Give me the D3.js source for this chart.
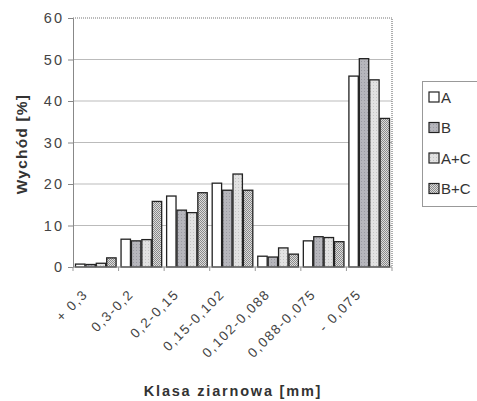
<!DOCTYPE html>
<html><head><meta charset="utf-8">
<script src="https://cdn.jsdelivr.net/npm/d3@7"></script>
<style>body{margin:0;background:#fff}svg{display:block}</style>
</head><body>
<script>
const categories = ["+ 0,3","0,3-0,2","0,2-0,15","0,15-0,102","0,102-0,088","0,088-0,075","- 0,075"];
const seriesNames = ["A","B","A+C","B+C"];
const valuesA   = [0.7, 6.7, 17.1, 20.2, 2.6, 6.3, 46.0];
const valuesB   = [0.6, 6.3, 13.7, 18.5, 2.4, 7.3, 50.2];
const valuesAC  = [0.9, 6.6, 13.1, 22.4, 4.6, 7.1, 45.1];
const valuesBC  = [2.2, 15.8, 17.9, 18.5, 3.1, 6.1, 35.8];
const yTicks = [0,10,20,30,40,50,60];
const series = [valuesA, valuesB, valuesAC, valuesBC];

const FONT="Arial, Liberation Sans, sans-serif";
const W=477,H=401;
const svg=d3.select("body").append("svg").attr("width",W).attr("height",H);
const defs=svg.append("defs");
const pB=defs.append("pattern").attr("id","pB").attr("width",3).attr("height",3).attr("patternUnits","userSpaceOnUse");
pB.append("rect").attr("width",3).attr("height",3).attr("fill","#b6b6bc");
pB.append("rect").attr("x",1).attr("y",1).attr("width",1).attr("height",1).attr("fill","#9a9aa2");
const pAC=defs.append("pattern").attr("id","pAC").attr("width",3).attr("height",3).attr("patternUnits","userSpaceOnUse");
pAC.append("rect").attr("width",3).attr("height",3).attr("fill","#e2e2e2");
pAC.append("rect").attr("x",1).attr("y",1).attr("width",1).attr("height",1).attr("fill","#c4c4c4");
const pBC=defs.append("pattern").attr("id","pBC").attr("width",2).attr("height",2).attr("patternUnits","userSpaceOnUse");
pBC.append("rect").attr("width",2).attr("height",2).attr("fill","#dcdcdc");
pBC.append("rect").attr("width",1).attr("height",1).attr("fill","#8a8a8a");
pBC.append("rect").attr("x",1).attr("y",1).attr("width",1).attr("height",1).attr("fill","#8a8a8a");
const fills=["#ffffff","url(#pB)","url(#pAC)","url(#pBC)"];

const L=73,R=392,T=18,B=267;
const x=d3.scaleBand().domain(categories).range([L,R]).paddingInner(0).paddingOuter(0);
const x1=d3.scaleBand().domain(seriesNames).range([0,x.bandwidth()]).paddingInner(0).paddingOuter(0.19);
const y=d3.scaleLinear().domain([0,60]).range([B,T]);

svg.append("g").selectAll("line").data(yTicks.filter(t=>t>0&&t<60)).join("line")
 .attr("x1",L).attr("x2",R).attr("y1",d=>y(d)).attr("y2",d=>y(d))
 .attr("stroke","#bbb").attr("stroke-width",1);
svg.append("path").attr("d",`M${L},${y(60)}H${R}V${B}`).attr("fill","none")
 .attr("stroke","#777").attr("stroke-width",1.2).attr("stroke-dasharray","1,1");

const ya=svg.append("g").attr("transform",`translate(${L},0)`)
 .call(d3.axisLeft(y).tickValues(yTicks).tickSize(5).tickPadding(8));
ya.select(".domain").attr("stroke","#888");
ya.selectAll(".tick line").attr("stroke","#888");
ya.selectAll("text").attr("font-family",FONT).attr("font-size",14.5).attr("letter-spacing",2)
 .attr("fill","#444").attr("x",-9);

const g=svg.append("g");
categories.forEach((c,i)=>{
  series.forEach((s,j)=>{
    g.append("rect").attr("x",x(c)+x1(seriesNames[j])+0.5).attr("y",y(s[i]))
     .attr("width",x1.bandwidth()-1).attr("height",B-y(s[i]))
     .attr("fill",fills[j]).attr("stroke","#222").attr("stroke-width",1.3);
  });
});

const xa=svg.append("g").attr("transform",`translate(0,${B})`);
xa.append("line").attr("x1",L).attr("x2",R).attr("stroke","#888");
xa.selectAll(".tk").data(d3.range(categories.length+1)).join("line")
 .attr("x1",d=>L+d*x.bandwidth()).attr("x2",d=>L+d*x.bandwidth()).attr("y1",0).attr("y2",4).attr("stroke","#999");
xa.selectAll("text").data(categories).join("text")
 .attr("transform",d=>`translate(${x(d)+x.bandwidth()/2-7},${28}) rotate(-45)`)
 .attr("text-anchor","end").attr("font-family",FONT)
 .attr("font-size",13.5).attr("letter-spacing",1.6).attr("fill","#444").text(d=>d);

svg.append("text").attr("transform",`translate(27,144) rotate(-90)`).attr("text-anchor","middle")
 .attr("font-family",FONT).attr("font-weight","bold").attr("font-size",15.5).attr("letter-spacing",1.2).attr("fill","#333")
 .text("Wychód [%]");
svg.append("text").attr("x",233).attr("y",396).attr("text-anchor","middle")
 .attr("font-family",FONT).attr("font-weight","bold").attr("font-size",14.5).attr("fill","#333")
 .attr("letter-spacing",1.8).text("Klasa ziarnowa [mm]");

const lg=svg.append("g");
lg.append("rect").attr("x",422.5).attr("y",81.5).attr("width",70).attr("height",125).attr("fill","#fff").attr("stroke","#999");
seriesNames.forEach((n,j)=>{
  const cy=97+j*30.5;
  lg.append("rect").attr("x",429).attr("y",cy-5).attr("width",10).attr("height",10).attr("fill",fills[j]).attr("stroke","#222").attr("stroke-width",1.2);
  lg.append("text").attr("x",441).attr("y",cy+5.5).attr("font-family",FONT).attr("font-size",15).attr("fill","#333").text(n);
});
</script>
</body></html>
